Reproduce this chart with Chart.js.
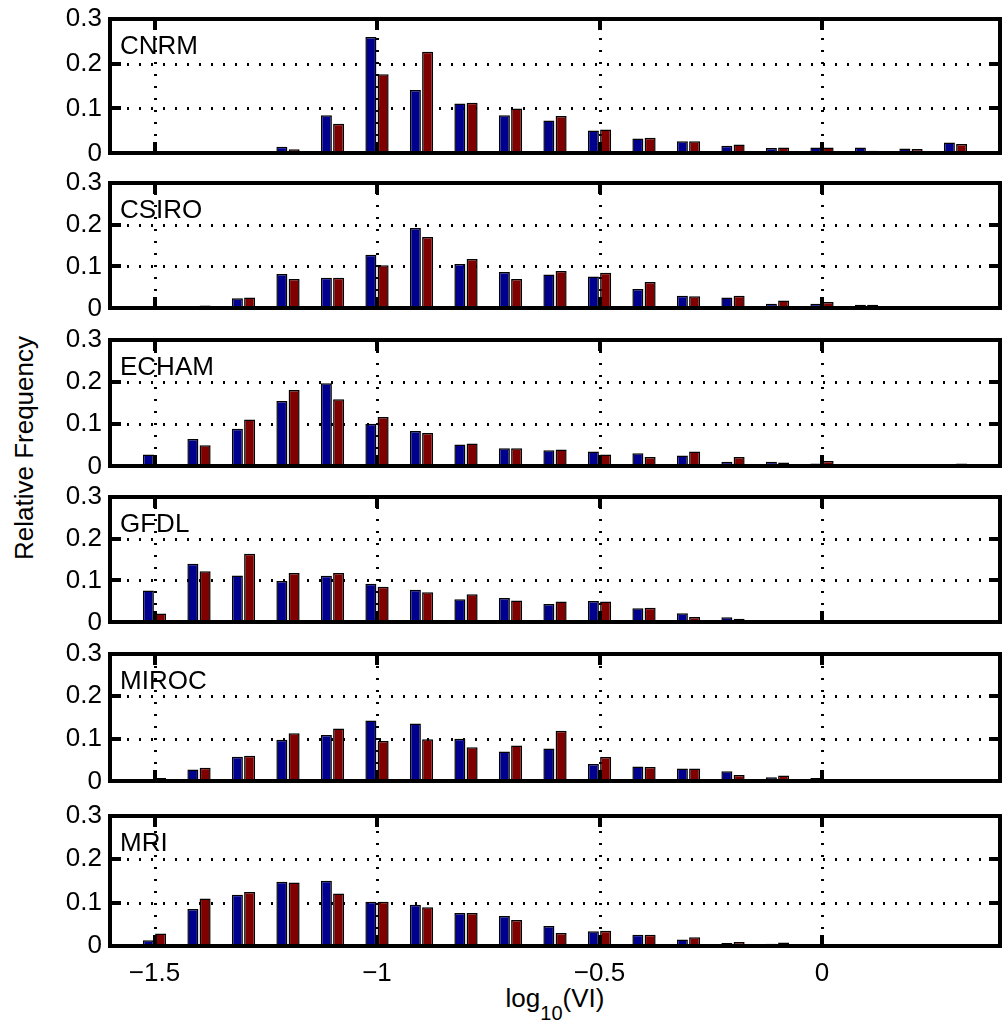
<!DOCTYPE html>
<html>
<head>
<meta charset="utf-8">
<script src="https://cdn.jsdelivr.net/npm/chart.js@4.4.0/dist/chart.umd.min.js"></script>
<style>
  body { margin: 0; background: #fff; width: 1002px; height: 1023px; position: relative; overflow: hidden;
         font-family: "Liberation Sans", Arial, sans-serif; color: #000; }
  .panel { position: absolute; left: 0; }
  #ytitle { position: absolute; left: 23.5px; top: 448px; transform: translate(-50%, -50%) rotate(-90deg);
            font-size: 26px; white-space: nowrap; }
  #xtitle { position: absolute; left: 555px; top: 985px; transform: translateX(-50%);
            font-size: 26px; line-height: 26px; white-space: nowrap; }
  #xtitle sub { font-size: 20px; vertical-align: -13px; line-height: 0; }
</style>
</head>
<body>
<div id="ytitle">Relative Frequency</div>
<div id="xtitle">log<sub>10</sub>(VI)</div>
<script>
// bin centres of log10(VI)
const bins = [-1.5, -1.4, -1.3, -1.2, -1.1, -1.0, -0.9, -0.8, -0.7, -0.6, -0.5, -0.4, -0.3, -0.2, -0.1, 0, 0.1, 0.2, 0.3];
const xTicks = [-1.5, -1, -0.5, 0];
const yTicks = [0, 0.1, 0.2, 0.3];
const models = ['CNRM', 'CSIRO', 'ECHAM', 'GFDL', 'MIROC', 'MRI'];

const cnrmBlue  = [0, 0, 0, 0.015, 0.085, 0.259, 0.141, 0.111, 0.085, 0.073, 0.051, 0.033, 0.027, 0.017, 0.012, 0.013, 0.013, 0.011, 0.024];
const cnrmRed   = [0, 0, 0, 0.009, 0.066, 0.176, 0.226, 0.113, 0.100, 0.083, 0.053, 0.035, 0.027, 0.020, 0.013, 0.013, 0.006, 0.010, 0.021];
const csiroBlue = [0, 0, 0.024, 0.082, 0.073, 0.128, 0.192, 0.106, 0.087, 0.081, 0.076, 0.046, 0.030, 0.026, 0.011, 0.011, 0.009, 0.002, 0.002];
const csiroRed  = [0, 0.007, 0.026, 0.070, 0.073, 0.103, 0.170, 0.118, 0.070, 0.089, 0.085, 0.063, 0.029, 0.030, 0.019, 0.015, 0.009, 0.003, 0.003];
const echamBlue = [0.028, 0.065, 0.089, 0.155, 0.197, 0.101, 0.084, 0.052, 0.043, 0.038, 0.035, 0.031, 0.026, 0.011, 0.011, 0.007, 0.004, 0.004, 0.003];
const echamRed  = [0.005, 0.050, 0.111, 0.181, 0.159, 0.117, 0.079, 0.054, 0.043, 0.040, 0.028, 0.022, 0.035, 0.022, 0.009, 0.013, 0.004, 0.003, 0.007];
const gfdlBlue  = [0.076, 0.140, 0.112, 0.099, 0.111, 0.092, 0.078, 0.055, 0.058, 0.044, 0.051, 0.034, 0.022, 0.012, 0.003, 0, 0, 0, 0];
const gfdlRed   = [0.021, 0.122, 0.164, 0.118, 0.118, 0.085, 0.072, 0.067, 0.052, 0.050, 0.050, 0.035, 0.013, 0.009, 0.005, 0, 0, 0, 0];
const mirocBlue = [0.004, 0.028, 0.058, 0.098, 0.109, 0.143, 0.136, 0.100, 0.070, 0.077, 0.041, 0.035, 0.030, 0.024, 0.010, 0.008, 0.004, 0, 0];
const mirocRed  = [0.008, 0.032, 0.060, 0.113, 0.124, 0.095, 0.099, 0.080, 0.084, 0.119, 0.057, 0.034, 0.030, 0.015, 0.014, 0.004, 0.004, 0, 0];
const mriBlue   = [0.013, 0.085, 0.118, 0.148, 0.150, 0.102, 0.095, 0.076, 0.069, 0.046, 0.034, 0.026, 0.015, 0.007, 0.005, 0.004, 0, 0.001, 0];
const mriRed    = [0.029, 0.109, 0.124, 0.146, 0.121, 0.102, 0.089, 0.076, 0.060, 0.030, 0.035, 0.026, 0.020, 0.009, 0.008, 0.004, 0, 0, 0];

const series = [
    [cnrmBlue, cnrmRed],
    [csiroBlue, csiroRed],
    [echamBlue, echamRed],
    [gfdlBlue, gfdlRed],
    [mirocBlue, mirocRed],
    [mriBlue, mriRed]
];

// panel placement on the page (px)
const panelTop    = [15, 179, 336, 493, 650, 812];
const panelBottom = [157, 312, 470, 626, 785, 946];

Chart.defaults.font.family = '"Liberation Sans", Arial, sans-serif';
Chart.defaults.font.size = 26;
Chart.defaults.color = '#000';

// dotted grid below the bars, box + inward ticks + model name on top
const framePlugin = {
    id: 'frame',
    beforeDatasetsDraw(chart) {
        const { ctx, chartArea: a, scales: { x, y } } = chart;
        ctx.save();
        ctx.fillStyle = '#000';
        // dotted grid: small dashes every 12px
        xTicks.forEach(v => {
            const px = Math.round(x.getPixelForValue(v));
            for (let yy = a.bottom - 6; yy > a.top; yy -= 12) ctx.fillRect(px - 1, Math.round(yy) - 1, 3, 2);
        });
        yTicks.slice(1, -1).forEach(v => {
            const py = Math.round(y.getPixelForValue(v));
            for (let xx = a.left + 6; xx < a.right; xx += 12) ctx.fillRect(Math.round(xx) - 1, py - 1, 2, 3);
        });
        ctx.restore();
    },
    afterDraw(chart, args, opts) {
        const { ctx, chartArea: a, scales: { x, y } } = chart;
        const L = Math.round(a.left), R = Math.round(a.right), T = Math.round(a.top), B = Math.round(a.bottom);
        const w = 4, tick = 11;
        ctx.save();
        ctx.fillStyle = '#000';
        // box
        ctx.fillRect(L - 2, T - 2, R - L + 4, w);
        ctx.fillRect(L - 2, B - 2, R - L + 4, w);
        ctx.fillRect(L - 2, T - 2, w, B - T + 4);
        ctx.fillRect(R - 2, T - 2, w, B - T + 4);
        // inward ticks
        xTicks.forEach(v => {
            const px = Math.round(x.getPixelForValue(v));
            ctx.fillRect(px - 2, B - tick, w, tick);
            ctx.fillRect(px - 2, T, w, tick);
        });
        yTicks.forEach(v => {
            const py = Math.round(y.getPixelForValue(v));
            ctx.fillRect(L, py - 2, tick, w);
            ctx.fillRect(R - tick, py - 2, tick, w);
        });
        ctx.font = '26px "Liberation Sans", Arial, sans-serif';
        ctx.textBaseline = 'alphabetic';
        ctx.fillText(opts.label, L + 10, T + 35);
        ctx.restore();
    }
};

function minusLabel(v) {
    return v < 0 ? '\u2212' + String(-v) : String(v);
}

models.forEach((name, i) => {
    const last = i === models.length - 1;
    const padTop = 20;
    const padBottom = last ? 0 : 20;
    const xHeight = last ? 50 : 0;

    const canvas = document.createElement('canvas');
    canvas.className = 'panel';
    canvas.width = 1002;
    canvas.height = panelBottom[i] - panelTop[i] + padTop + padBottom + xHeight;
    canvas.style.top = (panelTop[i] - padTop) + 'px';
    document.body.appendChild(canvas);

    new Chart(canvas, {
        type: 'bar',
        data: {
            labels: bins,
            datasets: [
                { data: series[i][0], backgroundColor: '#00008F', borderColor: '#000', borderWidth: 1.5,
                  barPercentage: 0.9, categoryPercentage: 0.55 },
                { data: series[i][1], backgroundColor: '#800000', borderColor: '#000', borderWidth: 1.5,
                  barPercentage: 0.9, categoryPercentage: 0.55 }
            ]
        },
        options: {
            responsive: false,
            animation: false,
            layout: { padding: { left: 0, right: 2, top: padTop, bottom: padBottom } },
            plugins: {
                legend: { display: false },
                tooltip: { enabled: false },
                frame: { label: name }
            },
            scales: {
                x: {
                    type: 'linear',
                    min: -1.6,
                    max: 0.4,
                    offset: false,
                    grid: { display: false, offset: false, drawTicks: false },
                    border: { display: false },
                    ticks: { display: last, padding: 12, callback: minusLabel },
                    afterBuildTicks: s => { s.ticks = xTicks.map(v => ({ value: v })); },
                    afterFit: s => { s.height = xHeight; }
                },
                y: {
                    min: 0,
                    max: 0.3,
                    grid: { display: false, drawTicks: false },
                    border: { display: false },
                    ticks: { padding: 8, callback: v => String(v) },
                    afterBuildTicks: s => { s.ticks = yTicks.map(v => ({ value: v })); },
                    afterFit: s => { s.width = 110; }
                }
            }
        },
        plugins: [framePlugin]
    });
});
</script>
</body>
</html>
